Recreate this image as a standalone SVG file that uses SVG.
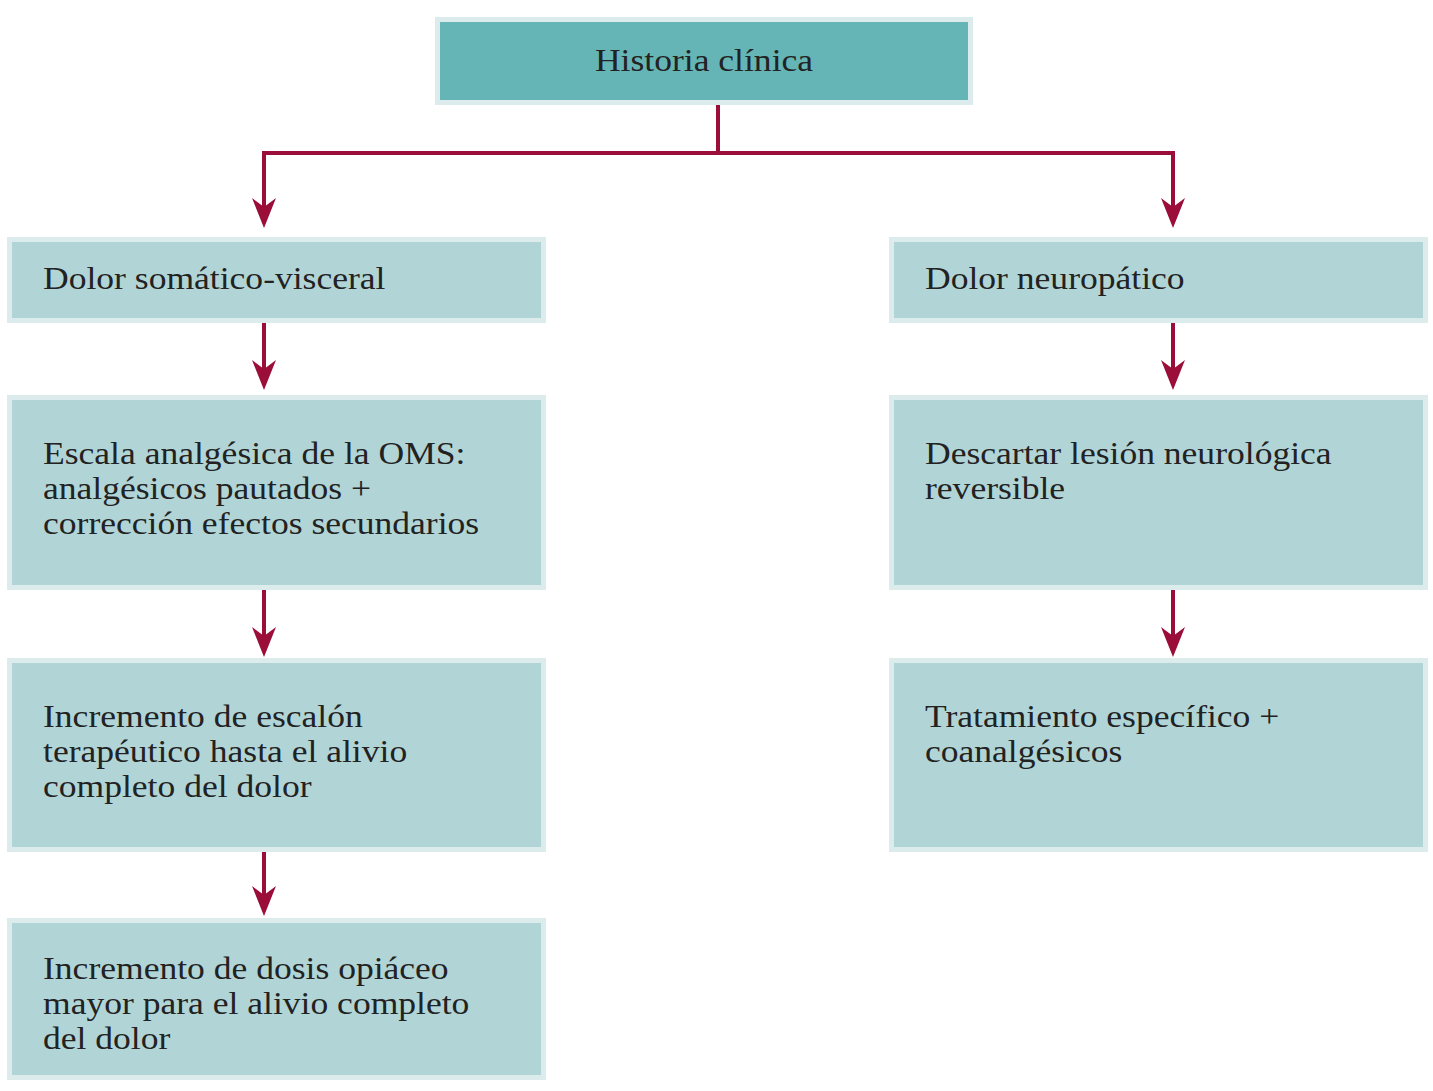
<svg xmlns="http://www.w3.org/2000/svg" width="1433" height="1091" viewBox="0 0 1433 1091">
<defs>
<style>
.box{fill:#b1d5d7;stroke:#dcebec;stroke-width:5}
.top{fill:#66b5b6;stroke:#dcebec;stroke-width:5}
.t{font-family:"Liberation Serif","Times New Roman",serif;font-size:31px;fill:#222}
.c{stroke:#9b0e3a;stroke-width:4;fill:none}
</style>
<marker id="ah" markerUnits="userSpaceOnUse" markerWidth="34" markerHeight="30" viewBox="0 0 34 30" refX="22" refY="15" orient="auto">
<path d="M32,15 L2,3 L11,15 L2,27 Z" fill="#9b0e3a"/>
</marker>
</defs>
<rect width="1433" height="1091" fill="#fff"/>
<g id="connectors">
<path class="c" d="M718,103 V153"/>
<path class="c" d="M262,153 H1175"/>
<path class="c" d="M264,151 V218" marker-end="url(#ah)"/>
<path class="c" d="M1173,151 V218" marker-end="url(#ah)"/>
<path class="c" d="M264,313 V380" marker-end="url(#ah)"/>
<path class="c" d="M264,580 V647" marker-end="url(#ah)"/>
<path class="c" d="M264,840 V906" marker-end="url(#ah)"/>
<path class="c" d="M1173,313 V380" marker-end="url(#ah)"/>
<path class="c" d="M1173,580 V647" marker-end="url(#ah)"/>
</g>
<g id="historia">
<rect class="top" x="437.5" y="19.5" width="533" height="83"/>
<g transform="translate(704 0) scale(1.147 1)"><text class="t" x="0" y="71" text-anchor="middle">Historia clínica</text></g>
</g>
<g id="somatico">
<rect class="box" x="9.5" y="239.5" width="534" height="81"/>
<g transform="translate(43 0) scale(1.147 1)"><text class="t" x="0" y="289">Dolor somático-visceral</text></g>
</g>
<g id="escala">
<rect class="box" x="9.5" y="397.5" width="534" height="190"/>
<g transform="translate(43 0) scale(1.147 1)">
<text class="t" x="0" y="464">Escala analgésica de la OMS:</text>
<text class="t" x="0" y="499">analgésicos pautados +</text>
<text class="t" x="0" y="534">corrección efectos secundarios</text>
</g>
</g>
<g id="incremento-escalon">
<rect class="box" x="9.5" y="660.5" width="534" height="189"/>
<g transform="translate(43 0) scale(1.147 1)">
<text class="t" x="0" y="727">Incremento de escalón</text>
<text class="t" x="0" y="762">terapéutico hasta el alivio</text>
<text class="t" x="0" y="797">completo del dolor</text>
</g>
</g>
<g id="incremento-dosis">
<rect class="box" x="9.5" y="920.5" width="534" height="157"/>
<g transform="translate(43 0) scale(1.147 1)">
<text class="t" x="0" y="979">Incremento de dosis opiáceo</text>
<text class="t" x="0" y="1014">mayor para el alivio completo</text>
<text class="t" x="0" y="1049">del dolor</text>
</g>
</g>
<g id="neuropatico">
<rect class="box" x="891.5" y="239.5" width="534" height="81"/>
<g transform="translate(925 0) scale(1.147 1)"><text class="t" x="0" y="289">Dolor neuropático</text></g>
</g>
<g id="descartar">
<rect class="box" x="891.5" y="397.5" width="534" height="190"/>
<g transform="translate(925 0) scale(1.147 1)">
<text class="t" x="0" y="464">Descartar lesión neurológica</text>
<text class="t" x="0" y="499">reversible</text>
</g>
</g>
<g id="tratamiento">
<rect class="box" x="891.5" y="660.5" width="534" height="189"/>
<g transform="translate(925 0) scale(1.147 1)">
<text class="t" x="0" y="727">Tratamiento específico +</text>
<text class="t" x="0" y="762">coanalgésicos</text>
</g>
</g>
</svg>
